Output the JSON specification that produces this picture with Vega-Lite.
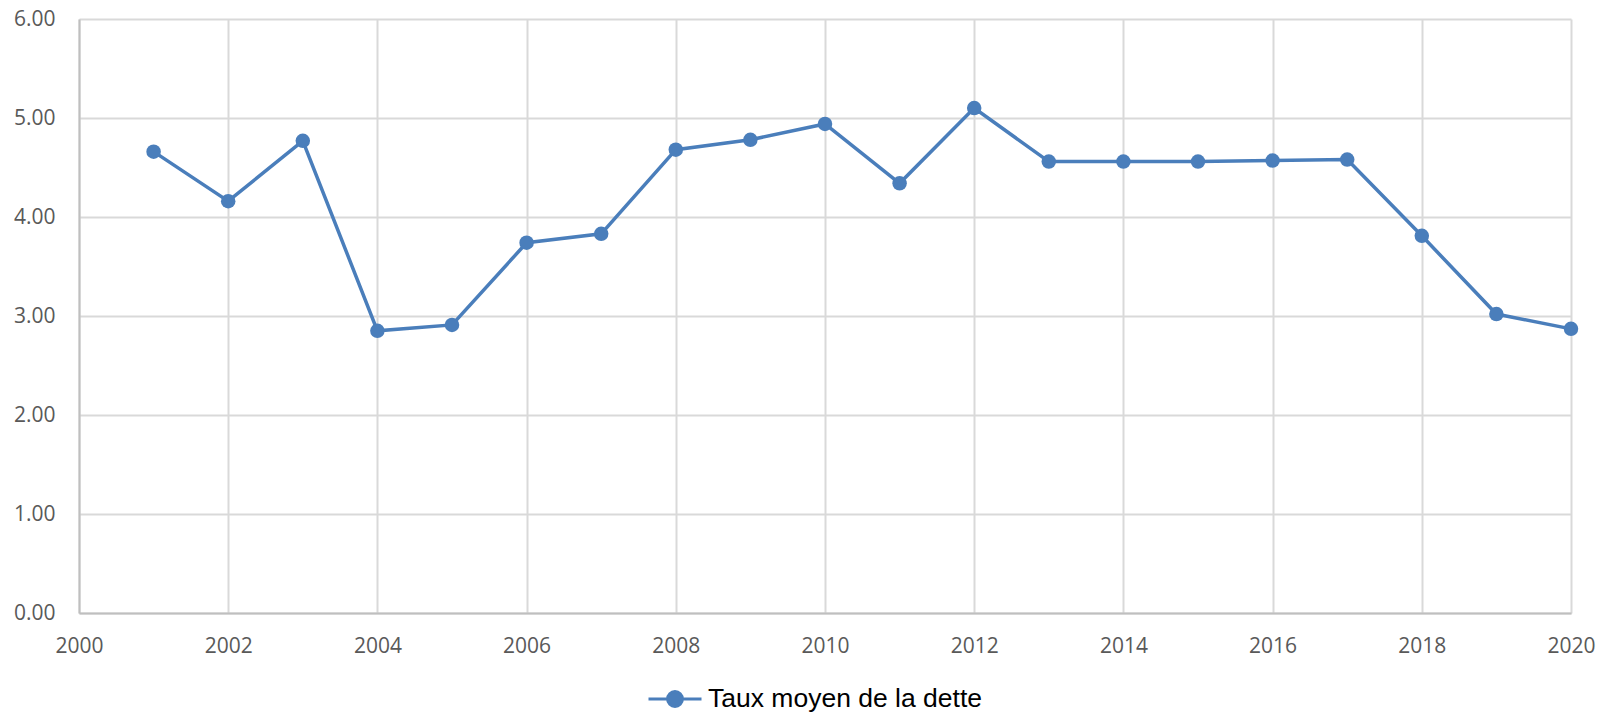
{
  "$schema": "https://vega.github.io/schema/vega-lite/v6.json",
  "width": 1492,
  "height": 594,
  "autosize": "none",
  "padding": {"left": 79, "top": 19, "right": 39, "bottom": 99},
  "background": "white",
  "config": {
    "view": {"stroke": null},
    "axis": {
      "labelFont": "Open Sans",
      "labelFontSize": 21,
      "labelColor": "#595959",
      "gridColor": "#d9d9d9",
      "gridWidth": 2,
      "domainColor": "#bfbfbf",
      "domainWidth": 2,
      "ticks": false,
      "title": null
    }
  },
  "data": {
    "values": [
      {"year": 2001, "taux": 4.66, "serie": "Taux moyen de la dette"},
      {"year": 2002, "taux": 4.16, "serie": "Taux moyen de la dette"},
      {"year": 2003, "taux": 4.77, "serie": "Taux moyen de la dette"},
      {"year": 2004, "taux": 2.85, "serie": "Taux moyen de la dette"},
      {"year": 2005, "taux": 2.91, "serie": "Taux moyen de la dette"},
      {"year": 2006, "taux": 3.74, "serie": "Taux moyen de la dette"},
      {"year": 2007, "taux": 3.83, "serie": "Taux moyen de la dette"},
      {"year": 2008, "taux": 4.68, "serie": "Taux moyen de la dette"},
      {"year": 2009, "taux": 4.78, "serie": "Taux moyen de la dette"},
      {"year": 2010, "taux": 4.94, "serie": "Taux moyen de la dette"},
      {"year": 2011, "taux": 4.34, "serie": "Taux moyen de la dette"},
      {"year": 2012, "taux": 5.10, "serie": "Taux moyen de la dette"},
      {"year": 2013, "taux": 4.56, "serie": "Taux moyen de la dette"},
      {"year": 2014, "taux": 4.56, "serie": "Taux moyen de la dette"},
      {"year": 2015, "taux": 4.56, "serie": "Taux moyen de la dette"},
      {"year": 2016, "taux": 4.57, "serie": "Taux moyen de la dette"},
      {"year": 2017, "taux": 4.58, "serie": "Taux moyen de la dette"},
      {"year": 2018, "taux": 3.81, "serie": "Taux moyen de la dette"},
      {"year": 2019, "taux": 3.02, "serie": "Taux moyen de la dette"},
      {"year": 2020, "taux": 2.87, "serie": "Taux moyen de la dette"}
    ]
  },
  "mark": {
    "type": "line",
    "strokeWidth": 3.5,
    "point": {"filled": true, "size": 210, "opacity": 1}
  },
  "encoding": {
    "x": {
      "field": "year",
      "type": "quantitative",
      "scale": {"domain": [2000, 2020], "nice": false, "zero": false},
      "axis": {
        "values": [2000, 2002, 2004, 2006, 2008, 2010, 2012, 2014, 2016, 2018, 2020],
        "format": "d",
        "labelPadding": 22,
        "labelFlush": false,
        "labelOverlap": false
      }
    },
    "y": {
      "field": "taux",
      "type": "quantitative",
      "scale": {"domain": [0, 6], "nice": false},
      "axis": {
        "values": [0, 1, 2, 3, 4, 5, 6],
        "format": ".2f",
        "labelPadding": 24,
        "labelFlush": false
      }
    },
    "color": {
      "field": "serie",
      "type": "nominal",
      "scale": {"range": ["#4a7ebb"]},
      "legend": {
        "title": null,
        "orient": "none",
        "legendX": 568,
        "legendY": 652,
        "padding": 0,
        "symbolType": "M-1,0L1,0M-0.28,0A0.28,0.28,0,1,1,0.28,0A0.28,0.28,0,1,1,-0.28,0Z",
        "symbolSize": 2809,
        "symbolStrokeWidth": 3,
        "labelFont": "Liberation Sans",
        "labelFontSize": 26.5,
        "labelLimit": 0,
        "labelColor": "#000000",
        "labelOffset": 5,
        "encode": {
          "symbols": {
            "update": {
              "fill": {"value": "#4a7ebb"},
              "stroke": {"value": "#4a7ebb"},
              "strokeWidth": {"value": 3},
              "opacity": {"value": 1}
            }
          }
        }
      }
    }
  }
}
